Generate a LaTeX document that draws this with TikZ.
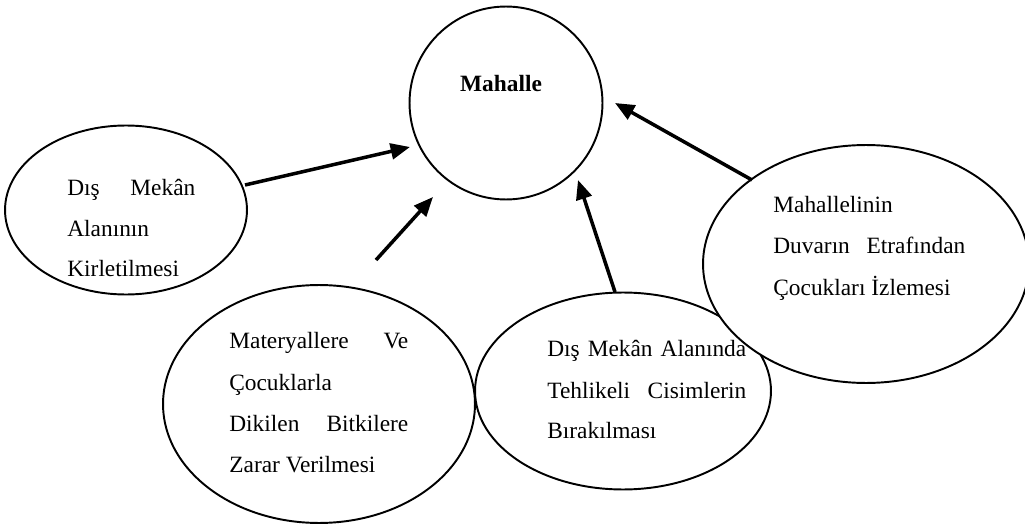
\documentclass[tikz,border=0pt]{standalone}
\usepackage{fontspec}
\setmainfont{Liberation Serif}
\usetikzlibrary{shapes.geometric,arrows.meta}
\begin{document}
\begin{tikzpicture}[x=0.02cm,y=-0.02cm,
  bubble/.style={ellipse,draw,line width=1.1pt,inner sep=0pt},
  txt/.style={anchor=base west,inner sep=0pt,font=\fontsize{13.3}{23.6}\selectfont},
  arr/.style={line width=2pt,-{Triangle[length=11pt,width=9pt]}}]
\useasboundingbox (0,0) rectangle (1025,527);
% shapes
\node[circle,draw,line width=1.1pt,minimum size=3.86cm,inner sep=0pt] (C) at (506,103) {};
\node[bubble,minimum width=4.84cm,minimum height=3.38cm] (L) at (126,210) {};
\node[bubble,minimum width=6.24cm,minimum height=4.76cm] (B) at (319,404) {};
\node[bubble,minimum width=5.92cm,minimum height=3.94cm] (M) at (623,391) {};
\node[bubble,fill=white,minimum width=6.52cm,minimum height=4.76cm] (R) at (866,264) {};
% texts
\node[txt,anchor=base,font=\fontsize{13.3}{23.6}\selectfont\bfseries] (ct) at (501,92) {Mahalle};
\node[txt] (l1) at (67,195) {\makebox[2.56cm][s]{Dış Mekân}};
\node[txt] (l2) at (67,236) {Alanının};
\node[txt] (l3) at (67,276) {Kirletilmesi};
\node[txt] (b1) at (229,348) {\makebox[3.58cm][s]{Materyallere Ve}};
\node[txt] (b2) at (229,390) {Çocuklarla};
\node[txt] (b3) at (229,431) {\makebox[3.58cm][s]{Dikilen Bitkilere}};
\node[txt] (b4) at (229,472) {Zarar Verilmesi};
\node[txt] (m1) at (547,356) {\makebox[3.98cm][s]{Dış Mekân Alanında}};
\node[txt] (m2) at (547,398) {\makebox[3.98cm][s]{Tehlikeli Cisimlerin}};
\node[txt] (m3) at (547,438) {Bırakılması};
\node[txt] (r1) at (773,213) {Mahallelinin};
\node[txt] (r2) at (773,254) {\makebox[3.84cm][s]{Duvarın Etrafından}};
\node[txt] (r3) at (773,295) {Çocukları İzlemesi};
% arrow end points
\coordinate (s1) at (245,185); \coordinate (t1) at (410,147);
\coordinate (s2) at (376,260); \coordinate (t2) at (433,197);
\coordinate (s3) at (615,292); \coordinate (t3) at (578,180);
\coordinate (s4) at (752,180); \coordinate (t4) at (615,103);
\draw[arr] (s1) -- (t1);
\draw[arr] (s2) -- (t2);
\draw[arr] (s3) -- (t3);
\draw[arr] (s4) -- (t4);
\end{tikzpicture}
\end{document}
